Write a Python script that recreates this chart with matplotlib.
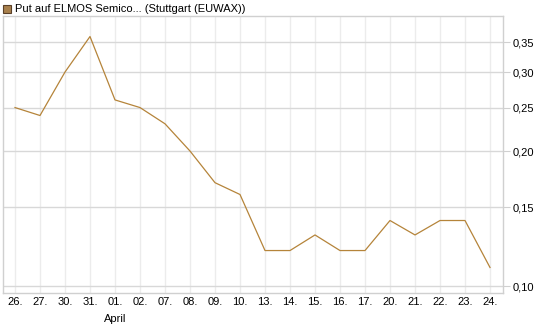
import matplotlib
matplotlib.use("Agg")
from matplotlib import pyplot as plt
from matplotlib.ticker import FixedLocator, NullLocator
from matplotlib.patches import Rectangle

plt.rcParams['font.family'] = ['Liberation Sans', 'DejaVu Sans']

days = ["26.", "27.", "30.", "31.", "01.", "02.", "07.", "08.", "09.", "10.",
        "13.", "14.", "15.", "16.", "17.", "20.", "21.", "22.", "23.", "24."]
prices = [0.25, 0.24, 0.30, 0.36, 0.26, 0.25, 0.23, 0.20, 0.17, 0.16,
          0.12, 0.12, 0.13, 0.12, 0.12, 0.14, 0.13, 0.14, 0.14, 0.11]
yticks = [0.10, 0.15, 0.20, 0.25, 0.30, 0.35]
ytick_labels = ["0,10", "0,15", "0,20", "0,25", "0,30", "0,35"]
title = "Put auf ELMOS Semico... (Stuttgart (EUWAX))"

line_color = "#b5843a"

fig = plt.figure(figsize=(5.45, 3.27), dpi=100)
ax = fig.add_axes([3 / 545, 1 - 293 / 327, 500 / 545, 277 / 327])

xs = list(range(len(days)))
ax.plot(xs, prices, color=line_color, linewidth=0.9)

ax.set_yscale("log")
ax.set_ylim(0.0965, 0.40)
ax.set_xlim(-0.48, len(days) - 1 + 0.52)

ax.yaxis.set_major_locator(FixedLocator(yticks))
ax.yaxis.set_minor_locator(NullLocator())
ax.set_yticklabels(ytick_labels)
ax.yaxis.tick_right()
ax.set_xticks(xs)
ax.set_xticklabels(days)

ax.tick_params(axis="y", length=5, color="#d0d0d0", labelsize=8, pad=2)
ax.tick_params(axis="x", length=0, labelsize=8, pad=3)

ax.grid(axis="y", color="#d8d8d8", linewidth=1.0)
ax.grid(axis="x", color="#ececec", linewidth=1.0)
ax.set_axisbelow(True)
for s in ax.spines.values():
    s.set_color("#d0d0d0")
    s.set_linewidth(1.0)

fig.text(115 / 545, 1 - 319 / 327, "April", fontsize=8, ha="center", va="center")

fig.patches.append(Rectangle((3 / 545, 1 - 13 / 327), 8 / 545, 8 / 327,
                             transform=fig.transFigure, facecolor="#a8804c",
                             edgecolor="#5a4028", linewidth=0.8))
fig.text(15 / 545, 1 - 9 / 327, title, fontsize=8, ha="left", va="center")

fig.savefig("out.png", dpi=100)
